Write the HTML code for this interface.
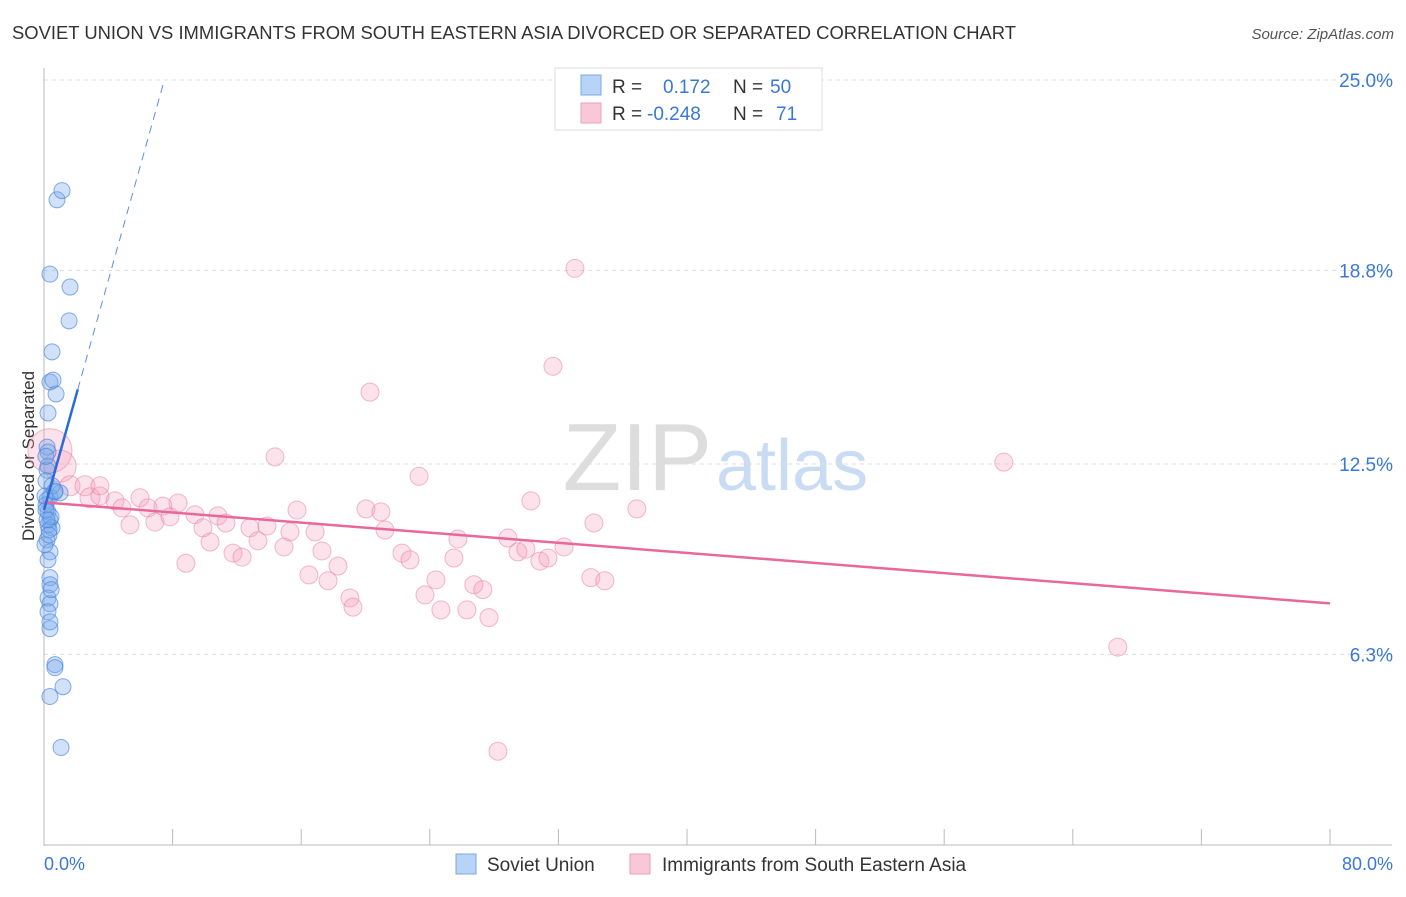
<!DOCTYPE html>
<html><head><meta charset="utf-8"><style>
body{margin:0;background:#fff;font-family:"Liberation Sans",sans-serif}
svg text{font-family:"Liberation Sans",sans-serif}
</style></head><body>
<svg width="1406" height="892" xmlns="http://www.w3.org/2000/svg">
<text x="12" y="39" font-size="18" fill="#333" textLength="1004" lengthAdjust="spacingAndGlyphs">SOVIET UNION VS IMMIGRANTS FROM SOUTH EASTERN ASIA DIVORCED OR SEPARATED CORRELATION CHART</text>
<text x="1394" y="39" font-size="15" fill="#555" text-anchor="end" font-style="italic">Source: ZipAtlas.com</text>
<text x="712" y="490" font-size="96" fill="#ddd" text-anchor="end" font-family="Liberation Serif">ZIP</text>
<text x="716" y="490" font-size="72" fill="#c9dcf3">atlas</text>
<g id="grid"></g>
<line x1="44" y1="68" x2="44" y2="846" stroke="#bbb"/>
<line x1="44" y1="845" x2="1392" y2="845" stroke="#bbb"/>
<g id="ticks"></g>
<text transform="translate(34,456) rotate(-90)" font-size="17" fill="#333" text-anchor="middle">Divorced or Separated</text>
<g id="pink"></g><g id="blue"></g><g id="lines"></g>
<g>
<rect x="555" y="68" width="267" height="62" fill="#fff" stroke="#ddd"/>
<rect x="581" y="75" width="20" height="20" fill="#b7d3f5" stroke="#7aa8e0"/>
<rect x="581" y="103" width="20" height="20" fill="#f9c8d8" stroke="#eba0bb"/>
<text x="612" y="93" font-size="19" fill="#333">R =</text><text x="663" y="93" font-size="19" fill="#3a78d8">0.172</text>
<text x="733" y="93" font-size="19" fill="#333">N =</text><text x="770" y="93" font-size="19" fill="#3a78d8">50</text>
<text x="612" y="120" font-size="19" fill="#333">R =</text><text x="647" y="120" font-size="19" fill="#3a78d8">-0.248</text>
<text x="733" y="120" font-size="19" fill="#333">N =</text><text x="776" y="120" font-size="19" fill="#3a78d8">71</text>
</g>
<g>
<rect x="456" y="854" width="20" height="20" fill="#b7d3f5" stroke="#7aa8e0"/>
<text x="487" y="871" font-size="19" fill="#333">Soviet Union</text>
<rect x="630" y="854" width="20" height="20" fill="#f9c8d8" stroke="#eba0bb"/>
<text x="662" y="871" font-size="19" fill="#333">Immigrants from South Eastern Asia</text>
</g>
<text x="44" y="870" font-size="18" fill="#3a78d8">0.0%</text>
<text x="1393" y="870" font-size="18" fill="#3a78d8" text-anchor="end">80.0%</text>
</svg>
<script>
const yTicks=[25.0,18.8,12.5,6.3];
const yTickLabels=["25.0%","18.8%","12.5%","6.3%"];
const xTickCount=10;
const blueX=[0.81,1.12,0.37,1.62,1.56,0.5,0.37,0.75,0.25,0.19,0.25,0.25,0.68,0.37,0.25,0.37,0.25,0.5,0.19,0.37,0.37,0.37,0.25,0.37,0.25,0.37,0.68,0.68,1.18,0.37,1.06,0.19,0.12,0.31,0.44,0.06,0.19,1.0,0.12,0.5,0.06,0.12,0.19,0.31,0.25,0.44,0.12,0.56,0.37,0.68];
const blueY=[21.1,21.4,18.68,18.26,17.16,16.15,15.17,14.78,14.16,13.05,12.89,12.43,11.59,11.43,10.94,10.68,10.52,10.42,10.03,9.64,8.8,8.57,8.14,7.95,7.69,7.14,5.97,5.87,5.25,4.93,3.27,11.33,11.17,10.35,10.78,9.87,12.3,11.56,11.95,11.79,11.46,11.0,10.68,10.19,9.38,8.41,12.75,15.23,7.36,11.62];
const pinkX=[0.37,1.0,1.62,2.55,2.86,3.48,4.42,4.85,5.35,5.97,6.47,6.9,7.4,7.84,8.34,8.83,9.39,9.89,10.33,10.82,11.32,11.76,12.32,12.81,13.31,13.87,14.37,14.93,15.3,15.74,16.48,16.86,17.29,17.67,18.29,19.03,19.22,20.03,20.28,20.96,21.21,22.27,22.77,23.33,23.7,24.38,24.69,25.5,25.75,26.31,26.74,27.3,27.68,28.24,28.86,29.48,29.98,30.29,30.85,31.35,31.66,32.35,33.03,34.02,34.21,34.89,36.88,59.71,66.8,3.48];
const pinkY=[12.93,12.43,11.79,11.79,11.4,11.46,11.3,11.07,10.52,11.4,11.07,10.61,11.13,10.78,11.23,9.27,10.85,10.42,9.96,10.81,10.58,9.6,9.47,10.42,10.0,10.48,12.73,9.8,10.29,11.0,8.89,10.29,9.67,8.7,9.18,8.14,7.84,11.04,14.84,10.94,10.35,9.6,9.38,12.1,8.24,8.73,7.75,9.44,10.06,7.75,8.57,8.41,7.5,3.15,10.09,9.64,9.73,11.3,9.34,9.44,15.68,9.8,18.87,8.8,10.58,8.7,11.04,12.56,6.54,11.79];
const pinkR=[22,16,10,10,10,9,9,9,9,9,9,9,9,9,9,9,9,9,9,9,9,9,9,9,9,9,9,9,9,9,9,9,9,9,9,9,9,9,9,9,9,9,9,9,9,9,9,9,9,9,9,9,9,9,9,9,9,9,9,9,9,9,9,9,9,9,9,9,9,9];
const blueTrend=[11.0,1.87];
const pinkTrend=[11.25,-0.0411];
const NS="http://www.w3.org/2000/svg";
const xs=v=>44+v*(1286/80);
const ys=v=>80+(25-v)*30.72;
function mk(t,a,p){const e=document.createElementNS(NS,t);for(const k in a)e.setAttribute(k,a[k]);p.appendChild(e);return e;}
const grid=document.getElementById('grid');
yTicks.forEach((v,i)=>{
 const l=mk('line',{x1:44,x2:1392,y1:ys(v),y2:ys(v),stroke:'#ddd','stroke-dasharray':'4,4'},grid);
 
 
 const t=mk('text',{x:1393,y:ys(v)+7,'font-size':19,fill:'#3a78d8','text-anchor':'end'},grid);
 t.textContent=yTickLabels[i];
 
 
});
const tk=document.getElementById('ticks');
for(let i=0;i<=xTickCount;i++){
 const l=mk('line',{x1:xs(i*8),x2:xs(i*8),y1:829,y2:845,stroke:'#bbb'},tk);
 
 
}
const pg=document.getElementById('pink');
pinkX.forEach((x,i)=>{
 const c=mk('circle',{cx:xs(x),cy:ys(pinkY[i]),r:pinkR[i],fill:'rgba(244,160,190,0.3)',stroke:'rgba(230,130,165,0.55)'},pg);
 
 
});
const bg=document.getElementById('blue');
blueX.forEach((x,i)=>{
 const c=mk('circle',{cx:xs(x),cy:ys(blueY[i]),r:8,fill:'rgba(120,170,235,0.35)',stroke:'rgba(70,130,220,0.65)'},bg);
 
 
});
const lg=document.getElementById('lines');
let l=mk('line',{x1:xs(0),y1:ys(pinkTrend[0]),x2:xs(80),y2:ys(pinkTrend[0]+pinkTrend[1]*80),stroke:'#e8689a','stroke-width':2.5},lg);


l=mk('line',{x1:xs(0),y1:ys(blueTrend[0]),x2:xs(2.1),y2:ys(blueTrend[0]+blueTrend[1]*2.1),stroke:'#2a6bd6','stroke-width':2.5},lg);


l=mk('line',{x1:xs(2.1),y1:ys(blueTrend[0]+blueTrend[1]*2.1),x2:xs(7.4),y2:ys(blueTrend[0]+blueTrend[1]*7.4),stroke:'#5b8fe0','stroke-width':1,'stroke-dasharray':'8,6'},lg);


</script>
</body></html>
